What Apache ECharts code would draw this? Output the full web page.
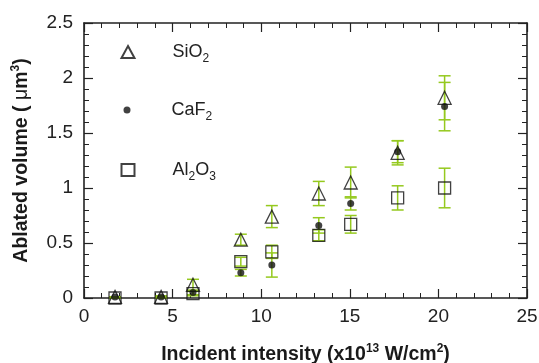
<!DOCTYPE html>
<html>
<head>
<meta charset="utf-8">
<script src="https://cdn.jsdelivr.net/npm/echarts@6/dist/echarts.min.js"></script>
<style>
  html, body { margin: 0; padding: 0; background: #fff; }
  #chart { width: 539px; height: 363px; }
</style>
</head>
<body>
<div id="chart"></div>
<script>
// intensity (x10^13 W/cm2)
var intensity = [1.75, 4.35, 6.15, 8.85, 10.6, 13.25, 15.05, 17.7, 20.35];
// ablated volume (um3) and error
var sio2    = [0.01, 0.01, 0.12, 0.53, 0.74, 0.95, 1.05, 1.32, 1.82];
var sio2Err = [0.0, 0.01, 0.05, 0.05, 0.10, 0.11, 0.14, 0.11, 0.20];
var caf2    = [0.01, 0.01, 0.05, 0.23, 0.30, 0.66, 0.86, 1.33, 1.74];
var caf2Err = [0.0, 0.0, 0.02, 0.03, 0.11, 0.07, 0.06, 0.10, 0.22];
var al2o3    = [0.0, 0.0, 0.04, 0.33, 0.42, 0.57, 0.67, 0.91, 1.00];
var al2o3Err = [0.0, 0.0, 0.02, 0.04, 0.06, 0.05, 0.08, 0.11, 0.18];

var errColor = '#95c91e';
var font = 'Liberation Sans, Arial, sans-serif';

function pts(vals) {
  return intensity.map(function (x, i) { return [x, vals[i]]; });
}
function errPts(vals, errs) {
  return intensity.map(function (x, i) { return [x, vals[i], errs[i]]; });
}
function renderErr(params, api) {
  var x = api.value(0), y = api.value(1), e = api.value(2);
  var top = api.coord([x, y + e]);
  var bot = api.coord([x, y - e]);
  var hw = 6;
  var st = { stroke: errColor, lineWidth: 1.5 };
  return {
    type: 'group',
    children: [
      { type: 'line', shape: { x1: top[0], y1: top[1], x2: bot[0], y2: bot[1] }, style: st },
      { type: 'line', shape: { x1: top[0] - hw, y1: top[1], x2: top[0] + hw, y2: top[1] }, style: st },
      { type: 'line', shape: { x1: bot[0] - hw, y1: bot[1], x2: bot[0] + hw, y2: bot[1] }, style: st }
    ]
  };
}
function errSeries(vals, errs) {
  return {
    type: 'custom',
    renderItem: renderErr,
    data: errPts(vals, errs),
    z: 1,
    silent: true
  };
}

function legendOf(name, top, w, h) {
  // text starts near x=173 whatever the icon size
  var gap = 173 - (122 + w / 2) - 5 - 6.5;
  return {
    orient: 'vertical', left: 122 - w / 2, top: top,
    itemWidth: w, itemHeight: h,
    data: [name],
    formatter: function (n) {
      if (n === 'SiO2') return '{g|}{a|SiO}{s|2}';
      if (n === 'CaF2') return '{g|}{a|CaF}{s|2}';
      return '{g|}{a|Al}{s|2}{a|O}{s|3}';
    },
    textStyle: {
      rich: {
        g: { width: gap },
        a: { fontFamily: font, fontSize: 18, color: '#222' },
        s: { fontFamily: font, fontSize: 12, color: '#222', padding: [14, 0, 0, 0] }
      }
    }
  };
}

var tick = { inside: true, length: 9, lineStyle: { color: '#222', width: 1.2 } };
var minor = { show: true, splitNumber: 5, length: 5, lineStyle: { color: '#222', width: 1 } };
var axisLine = { show: true, onZero: false, lineStyle: { color: '#222', width: 1.6 } };
var nameStyle = {
  fontFamily: font, fontSize: 19.5, fontWeight: 'bold', color: '#1a1a1a',
  rich: {
    sup: { fontFamily: font, fontSize: 12, fontWeight: 'bold', color: '#1a1a1a', padding: [0, 0, 11, 0] },
    mu: { fontFamily: font, fontSize: 19.5, fontWeight: 'normal', color: '#1a1a1a' }
  }
};

var chart = echarts.init(document.getElementById('chart'));
chart.setOption({
  animation: false,
  grid: { left: 84, right: 12, top: 23, bottom: 65, outerBoundsMode: 'none', containLabel: false },
  legend: [
    legendOf('SiO2', 38, 13, 12),
    legendOf('CaF2', 96, 7, 7),
    legendOf('Al2O3', 156, 13, 12)
  ],
  xAxis: [{
    type: 'value', min: 0, max: 25, interval: 5,
    position: 'bottom',
    name: 'Incident intensity (x10{sup|13} W/cm{sup|2})',
    nameLocation: 'middle', nameGap: 45,
    nameTextStyle: nameStyle,
    axisLine: axisLine, axisTick: tick, minorTick: minor,
    axisLabel: { fontFamily: font, fontSize: 19, color: '#222', margin: 9 },
    splitLine: { show: false }
  }, {
    type: 'value', min: 0, max: 25, interval: 5,
    position: 'top',
    axisLine: axisLine, axisTick: tick, minorTick: minor,
    axisLabel: { show: false },
    splitLine: { show: false }
  }],
  yAxis: [{
    type: 'value', min: 0, max: 2.5, interval: 0.5,
    position: 'left',
    name: 'Ablated volume ( {mu|\u03bc}m{sup|3})',
    nameLocation: 'middle', nameGap: 51,
    nameTextStyle: nameStyle,
    axisLine: axisLine, axisTick: tick, minorTick: minor,
    axisLabel: { fontFamily: font, fontSize: 19, color: '#222', margin: 11 },
    splitLine: { show: false }
  }, {
    type: 'value', min: 0, max: 2.5, interval: 0.5,
    position: 'right',
    axisLine: axisLine, axisTick: tick, minorTick: minor,
    axisLabel: { show: false },
    splitLine: { show: false }
  }],
  series: [
    errSeries(sio2, sio2Err),
    errSeries(caf2, caf2Err),
    errSeries(al2o3, al2o3Err),
    {
      name: 'SiO2', type: 'scatter', symbol: 'triangle', symbolSize: 13,
      data: pts(sio2), z: 3,
      itemStyle: { color: 'rgba(255,255,255,0)', borderColor: '#111', borderWidth: 1.3 }
    },
    {
      name: 'CaF2', type: 'scatter', symbol: 'circle', symbolSize: 7,
      data: pts(caf2), z: 4,
      itemStyle: { color: '#111' }
    },
    {
      name: 'Al2O3', type: 'scatter', symbol: 'rect', symbolSize: 12,
      data: pts(al2o3), z: 2,
      itemStyle: { color: 'rgba(255,255,255,0)', borderColor: '#111', borderWidth: 1.3 }
    }
  ]
});
</script>
</body>
</html>
